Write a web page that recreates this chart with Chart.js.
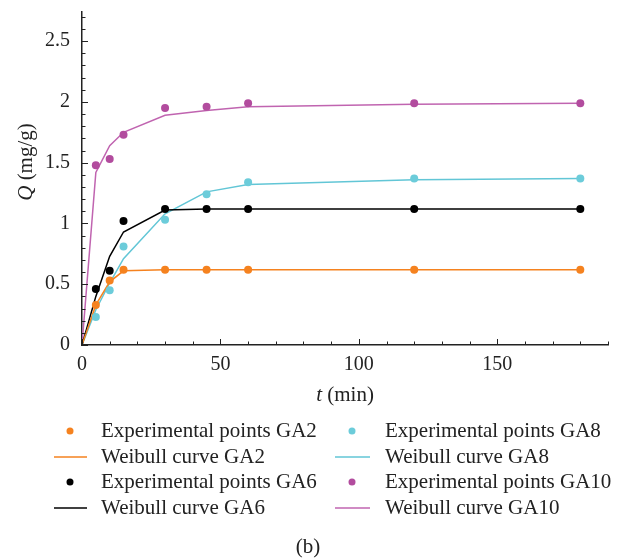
<!DOCTYPE html>
<html>
<head>
<meta charset="utf-8">
<script src="https://cdn.jsdelivr.net/npm/chart.js@4/dist/chart.umd.min.js"></script>
<style>
  html, body { margin: 0; padding: 0; background: #fff; }
  #wrap { width: 619px; height: 560px; position: relative; }
</style>
</head>
<body>
<div id="wrap"><canvas id="myChart" width="619" height="560"></canvas></div>
<script>
// sampling times (min)
const expTimes = [5, 10, 15, 30, 45, 60, 120, 180];
const curveTimes = [0, 5, 10, 15, 30, 45, 60, 120, 180];

// Q (mg/g)
const expGA2 = [0.33, 0.53, 0.62, 0.62, 0.62, 0.62, 0.62, 0.62];
const weibullGA2 = [0, 0.33, 0.52, 0.61, 0.62, 0.62, 0.62, 0.62, 0.62];
const expGA6 = [0.46, 0.61, 1.02, 1.12, 1.12, 1.12, 1.12, 1.12];
const weibullGA6 = [0, 0.40, 0.73, 0.93, 1.11, 1.12, 1.12, 1.12, 1.12];
const expGA8 = [0.23, 0.45, 0.81, 1.03, 1.24, 1.34, 1.37, 1.37];
const weibullGA8 = [0, 0.29, 0.51, 0.71, 1.08, 1.26, 1.32, 1.36, 1.37];
const expGA10 = [1.48, 1.53, 1.73, 1.95, 1.96, 1.99, 1.99, 1.99];
const weibullGA10 = [0, 1.42, 1.64, 1.75, 1.89, 1.93, 1.96, 1.98, 1.99];

const yTicks = [0, 0.5, 1, 1.5, 2, 2.5];
const xTicks = [0, 50, 100, 150];

const SERIF = "'Liberation Serif', 'DejaVu Serif', serif";

function toXY(xs, ys) {
  return ys.map((y, i) => ({ x: xs[i], y: y }));
}

function pointSet(label, values, color) {
  return {
    label: label,
    data: toXY(expTimes, values),
    showLine: false,
    pointRadius: 4,
    pointHoverRadius: 4,
    backgroundColor: color,
    borderColor: color,
    borderWidth: 0,
    order: 0,
  };
}

function curveSet(label, values, color) {
  return {
    label: label,
    data: toXY(curveTimes, values),
    showLine: true,
    pointRadius: 0,
    borderColor: color,
    backgroundColor: color,
    borderWidth: 1.5,
    tension: 0,
    order: 1,
  };
}

const datasets = [
  pointSet("Experimental points GA2", expGA2, "#F5821F"),
  curveSet("Weibull curve GA2", weibullGA2, "#F5821F"),
  pointSet("Experimental points GA6", expGA6, "#000000"),
  curveSet("Weibull curve GA6", weibullGA6, "#000000"),
  pointSet("Experimental points GA8", expGA8, "#6CCCDA"),
  curveSet("Weibull curve GA8", weibullGA8, "#62C6D6"),
  pointSet("Experimental points GA10", expGA10, "#B24C9E"),
  curveSet("Weibull curve GA10", weibullGA10, "#C064B0"),
];

// inward tick marks, axis titles, legend and caption
const decorations = {
  id: "decorations",
  afterDraw(chart) {
    const ctx = chart.ctx;
    const xs = chart.scales.x;
    const ys = chart.scales.y;
    const area = chart.chartArea;
    ctx.save();
    ctx.strokeStyle = "#222";
    ctx.lineWidth = 1;

    // y ticks (minor every 0.1)
    for (let i = 0; i <= 27; i++) {
      const v = i / 10;
      const py = Math.round(ys.getPixelForValue(v)) + 0.5;
      const len = i % 5 === 0 ? 6 : 3.5;
      ctx.beginPath();
      ctx.moveTo(area.left, py);
      ctx.lineTo(area.left + len, py);
      ctx.stroke();
    }
    // x ticks (minor every 10)
    for (let i = 0; i <= 19; i++) {
      const v = i * 10;
      const px = Math.round(xs.getPixelForValue(v)) + 0.5;
      const len = i % 5 === 0 ? 6 : 3.5;
      ctx.beginPath();
      ctx.moveTo(px, area.bottom);
      ctx.lineTo(px, area.bottom - len);
      ctx.stroke();
    }

    ctx.fillStyle = "#222";
    ctx.textBaseline = "middle";

    // x title: t (min)
    const italic = "italic 21px " + SERIF;
    const normal = "21px " + SERIF;
    ctx.font = italic;
    const wT = ctx.measureText("t").width;
    ctx.font = normal;
    const wRest = ctx.measureText(" (min)").width;
    const cx = (area.left + area.right) / 2;
    let sx = cx - (wT + wRest) / 2;
    ctx.textAlign = "left";
    ctx.font = italic;
    ctx.fillText("t", sx, 395);
    ctx.font = normal;
    ctx.fillText(" (min)", sx + wT, 395);

    // y title: Q (mg/g)
    ctx.save();
    ctx.translate(26, 162);
    ctx.rotate(-Math.PI / 2);
    ctx.font = italic;
    const wQ = ctx.measureText("Q").width;
    ctx.font = normal;
    const wQr = ctx.measureText(" (mg/g)").width;
    let qx = -(wQ + wQr) / 2;
    ctx.font = italic;
    ctx.fillText("Q", qx, 0);
    ctx.font = normal;
    ctx.fillText(" (mg/g)", qx + wQ, 0);
    ctx.restore();

    // legend: two columns of four rows
    const cols = [
      { line0: 54, line1: 87, dot: 70, text: 101 },
      { line0: 335, line1: 370, dot: 352, text: 385 },
    ];
    const rows = [431, 457, 482, 508];
    chart.data.datasets.forEach((ds, i) => {
      const col = cols[Math.floor(i / 4)];
      const y = rows[i % 4];
      if (ds.showLine) {
        ctx.strokeStyle = ds.borderColor;
        ctx.lineWidth = 1.5;
        ctx.beginPath();
        ctx.moveTo(col.line0, y);
        ctx.lineTo(col.line1, y);
        ctx.stroke();
      } else {
        ctx.fillStyle = ds.backgroundColor;
        ctx.beginPath();
        ctx.arc(col.dot, y, 3.5, 0, Math.PI * 2);
        ctx.fill();
      }
      ctx.fillStyle = "#222";
      ctx.font = normal;
      ctx.textAlign = "left";
      ctx.fillText(ds.label, col.text, y);
    });

    // caption
    ctx.textAlign = "center";
    ctx.font = normal;
    ctx.fillText("(b)", 308, 547);
    ctx.restore();
  },
};

const ctx = document.getElementById("myChart").getContext("2d");
window.myChartInstance = new Chart(ctx, {
  type: "scatter",
  data: { datasets: datasets },
  options: {
    responsive: false,
    animation: false,
    layout: { padding: { left: 0, right: 11, top: 12, bottom: 0 } },
    plugins: {
      legend: { display: false },
      tooltip: { enabled: false },
    },
    scales: {
      x: {
        type: "linear",
        min: 0,
        max: 190,
        afterFit: (scale) => {
          scale.height = 215;
          scale.paddingLeft = 0;
          scale.paddingRight = 0;
        },
        afterBuildTicks: (scale) => { scale.ticks = xTicks.map((v) => ({ value: v })); },
        grid: { display: false, drawTicks: false },
        border: { display: true, color: "#222", width: 1.5 },
        ticks: {
          padding: 8,
          color: "#222",
          font: { family: SERIF, size: 20 },
          callback: (v) => String(v),
        },
      },
      y: {
        type: "linear",
        min: 0,
        max: 2.74,
        afterFit: (scale) => {
          scale.width = 82;
          scale.paddingTop = 0;
          scale.paddingBottom = 0;
        },
        afterBuildTicks: (scale) => { scale.ticks = yTicks.map((v) => ({ value: v })); },
        grid: { display: false, drawTicks: false },
        border: { display: true, color: "#222", width: 1.5 },
        ticks: {
          padding: 12,
          color: "#222",
          font: { family: SERIF, size: 20 },
          callback: (v) => String(v),
        },
      },
    },
  },
  plugins: [decorations],
});
</script>
</body>
</html>
